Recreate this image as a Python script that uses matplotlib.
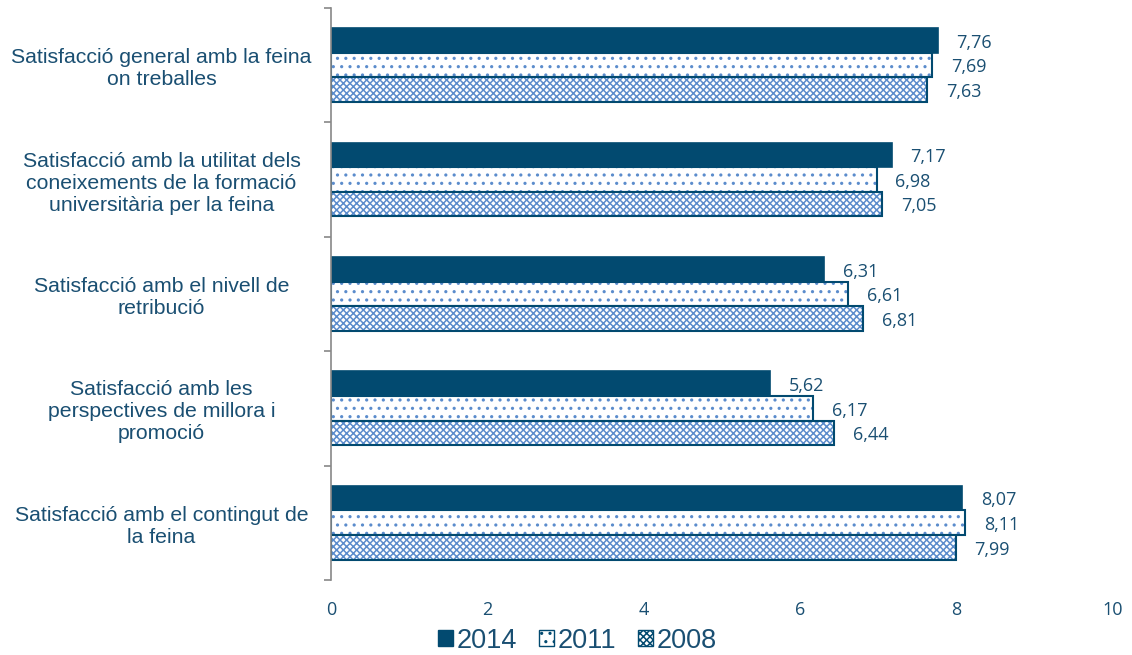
import numpy as np
import matplotlib

matplotlib.use("Agg")

import matplotlib.pyplot as plt
from matplotlib.patches import Patch

categories = [
    "Satisfacció general amb la feina\non treballes",
    "Satisfacció amb la utilitat dels\nconeixements de la formació\nuniversitària per la feina",
    "Satisfacció amb el nivell de\nretribució",
    "Satisfacció amb les\nperspectives de millora i\npromoció",
    "Satisfacció amb el contingut de\nla feina",
]
years = ["2014", "2011", "2008"]
vals_2014 = [7.76, 7.17, 6.31, 5.62, 8.07]
vals_2011 = [7.69, 6.98, 6.61, 6.17, 8.11]
vals_2008 = [7.63, 7.05, 6.81, 6.44, 7.99]
x_ticks = [0, 2, 4, 6, 8, 10]

DARK = '#024a70'
HATCH = '#5b8ccc'
TEXT = '#1a4f72'

plt.rcParams['hatch.linewidth'] = 1.1

fig = plt.figure(figsize=(11.32, 6.55), dpi=100)
ax = fig.add_axes([0.2924, 0.1145, 0.6906, 0.8735])

n = len(categories)
y = np.arange(n)
h = 0.215
series = [
    (vals_2014, -h, None),
    (vals_2011, 0, '..'),
    (vals_2008, h, 'xxxxx'),
]
for vals, off, hatch in series:
    if hatch is None:
        ax.barh(y + off, vals, height=h, color=DARK, edgecolor=DARK, linewidth=1.2)
    else:
        ax.barh(y + off, vals, height=h, color='white', edgecolor=HATCH, hatch=hatch, linewidth=0)
        ax.barh(y + off, vals, height=h, fill=False, edgecolor=DARK, linewidth=1.5)
    for yi, v in zip(y + off, vals):
        ax.text(v + 0.24, yi + 0.02, f"{v:.2f}".replace('.', ','), va='center', ha='left',
                fontsize=13, color=TEXT, family='Open Sans')

ax.set_xlim(0, 10)
ax.set_ylim(n - 0.5, -0.5)
ax.set_xticks(x_ticks)
ax.set_xticklabels([str(t) for t in x_ticks], family='Open Sans', fontsize=13, color=TEXT)
ax.tick_params(axis='x', length=0, pad=15)

ax.set_yticks(y)
ax.set_yticklabels(categories, family='Liberation Sans', fontsize=15.3, color=TEXT,
                   ha='center', multialignment='center')
ax.tick_params(axis='y', which='major', length=0, pad=122)
ax.set_yticks(np.arange(-0.5, n + 0.5, 1), minor=True)
ax.tick_params(axis='y', which='minor', length=5, color='#888888', width=1.2)

for s in ['top', 'right', 'bottom']:
    ax.spines[s].set_visible(False)
ax.spines['left'].set_color('#888888')
ax.spines['left'].set_linewidth(1.2)

handles = [
    Patch(facecolor=DARK, edgecolor=DARK, label=years[0]),
    Patch(facecolor='white', edgecolor=DARK, hatch='..', label=years[1]),
    Patch(facecolor='white', edgecolor=DARK, hatch='xxxxx', label=years[2]),
]
fig.legend(handles=handles, loc='center', bbox_to_anchor=(0.51, 0.022), ncol=3,
           frameon=False, prop={'family': 'Liberation Sans', 'size': 19.5},
           handlelength=0.55, handleheight=0.55, handletextpad=0.15, columnspacing=0.8,
           labelcolor=TEXT)

fig.savefig('out.png', dpi=100)
